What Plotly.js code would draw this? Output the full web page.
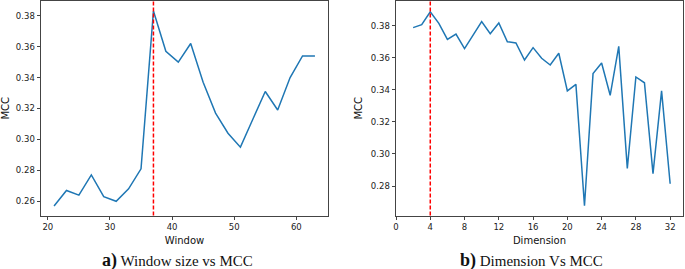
<!DOCTYPE html>
<html>
<head>
<meta charset="utf-8">
<script src="https://cdn.plot.ly/plotly-3.0.1.min.js"></script>
<style>html,body{margin:0;padding:0;background:#fff;}#chart{width:685px;height:269px;}</style>
</head>
<body>
<div id="chart"></div>
<script>
// Panel a) Window size vs MCC
const windowSizes = [21, 23, 25, 27, 29, 31, 33, 35, 37, 39, 41, 43, 45, 47, 49, 51, 53, 55, 57, 59, 61, 63];
const windowMCC   = [0.257, 0.267, 0.264, 0.277, 0.263, 0.260, 0.268, 0.281, 0.383, 0.357, 0.350, 0.362, 0.337, 0.317, 0.304, 0.295, 0.313, 0.331, 0.319, 0.340, 0.354, 0.354];
const bestWindow = 37;

// Panel b) Dimension vs MCC
const dimensions = [2, 3, 4, 5, 6, 7, 8, 9, 10, 11, 12, 13, 14, 15, 16, 17, 18, 19, 20, 21, 22, 23, 24, 25, 26, 27, 28, 29, 30, 31, 32];
const dimensionMCC = [0.3788, 0.3806, 0.3887, 0.3815, 0.3715, 0.3748, 0.3657, 0.3744, 0.3825, 0.3750, 0.3817, 0.3700, 0.3692, 0.3586, 0.3663, 0.3597, 0.3555, 0.3628, 0.3393, 0.3434, 0.2677, 0.3501, 0.3567, 0.3366, 0.3671, 0.2910, 0.3480, 0.3444, 0.2877, 0.3393, 0.2814];
const bestDimension = 4;

const dimTicks = [0, 4, 8, 12, 16, 20, 24, 28, 32];
const captionA = ['a)', 'Window size vs MCC'];
const captionB = ['b)', 'Dimension Vs MCC'];

const W = 685, H = 269;
const tickFont = {family: 'DejaVu Sans', size: 8.5, color: '#222'};
const titleFont = {family: 'DejaVu Sans', size: 10, color: '#111'};
const frame = '#444';

function axisBase() {
  return {
    showline: true, mirror: true, linecolor: frame, linewidth: 1,
    ticks: 'outside', ticklen: 3.5, tickwidth: 1, tickcolor: frame,
    showgrid: false, zeroline: false, tickfont: tickFont, automargin: false, fixedrange: true
  };
}

const blue = '#1f77b4';
const traces = [
  {x: windowSizes, y: windowMCC, type: 'scatter', mode: 'lines', line: {color: blue, width: 1.5}, xaxis: 'x', yaxis: 'y', hoverinfo: 'skip'},
  {x: dimensions, y: dimensionMCC, type: 'scatter', mode: 'lines', line: {color: blue, width: 1.5}, xaxis: 'x2', yaxis: 'y2', hoverinfo: 'skip'}
];

const ydom = [(H - 215.5) / H, (H - 1) / H];
const capFont = {family: 'Liberation Serif', size: 15, color: '#111'};
function caption(parts, cx) {
  return {xref: 'paper', yref: 'paper', x: cx / W, y: (H - 260) / H, xanchor: 'center', yanchor: 'middle',
    showarrow: false, height: 24, valign: 'middle',
    text: '<b><span style="font-size:18px">' + parts[0] + '</span></b> ' + parts[1], font: capFont};
}

const layout = {
  width: W, height: H,
  margin: {l: 0, r: 0, t: 0, b: 0},
  paper_bgcolor: '#fff', plot_bgcolor: '#fff',
  showlegend: false,
  xaxis: Object.assign(axisBase(), {
    domain: [41 / W, 328 / W], range: [18.9, 65.1], tick0: 20, dtick: 10,
    title: {text: 'Window', font: titleFont, standoff: 5}
  }),
  yaxis: Object.assign(axisBase(), {
    domain: ydom, range: [0.2508, 0.3895], tick0: 0.26, dtick: 0.02, tickformat: '.2f',
    title: {text: 'MCC', font: titleFont, standoff: 6}
  }),
  xaxis2: Object.assign(axisBase(), {
    domain: [396 / W, 683 / W], range: [0, 33.5], tickmode: 'array', tickvals: dimTicks,
    ticktext: dimTicks.map(String), anchor: 'y2',
    title: {text: 'Dimension', font: titleFont, standoff: 5}
  }),
  yaxis2: Object.assign(axisBase(), {
    domain: ydom, range: [0.2616, 0.3954], tick0: 0.28, dtick: 0.02, tickformat: '.2f', anchor: 'x2',
    title: {text: 'MCC', font: titleFont, standoff: 6}
  }),
  shapes: [
    {type: 'line', xref: 'x', yref: 'y domain', x0: bestWindow, x1: bestWindow, y0: 0, y1: 1,
     line: {color: 'red', width: 1.5, dash: '4px,2px'}, layer: 'above'},
    {type: 'line', xref: 'x2', yref: 'y2 domain', x0: bestDimension, x1: bestDimension, y0: 0, y1: 1,
     line: {color: 'red', width: 1.5, dash: '4px,2px'}, layer: 'above'}
  ],
  annotations: [caption(captionA, 177.6), caption(captionB, 531.5)]
};

Plotly.newPlot('chart', traces, layout, {staticPlot: true, displayModeBar: false});
</script>
</body>
</html>
